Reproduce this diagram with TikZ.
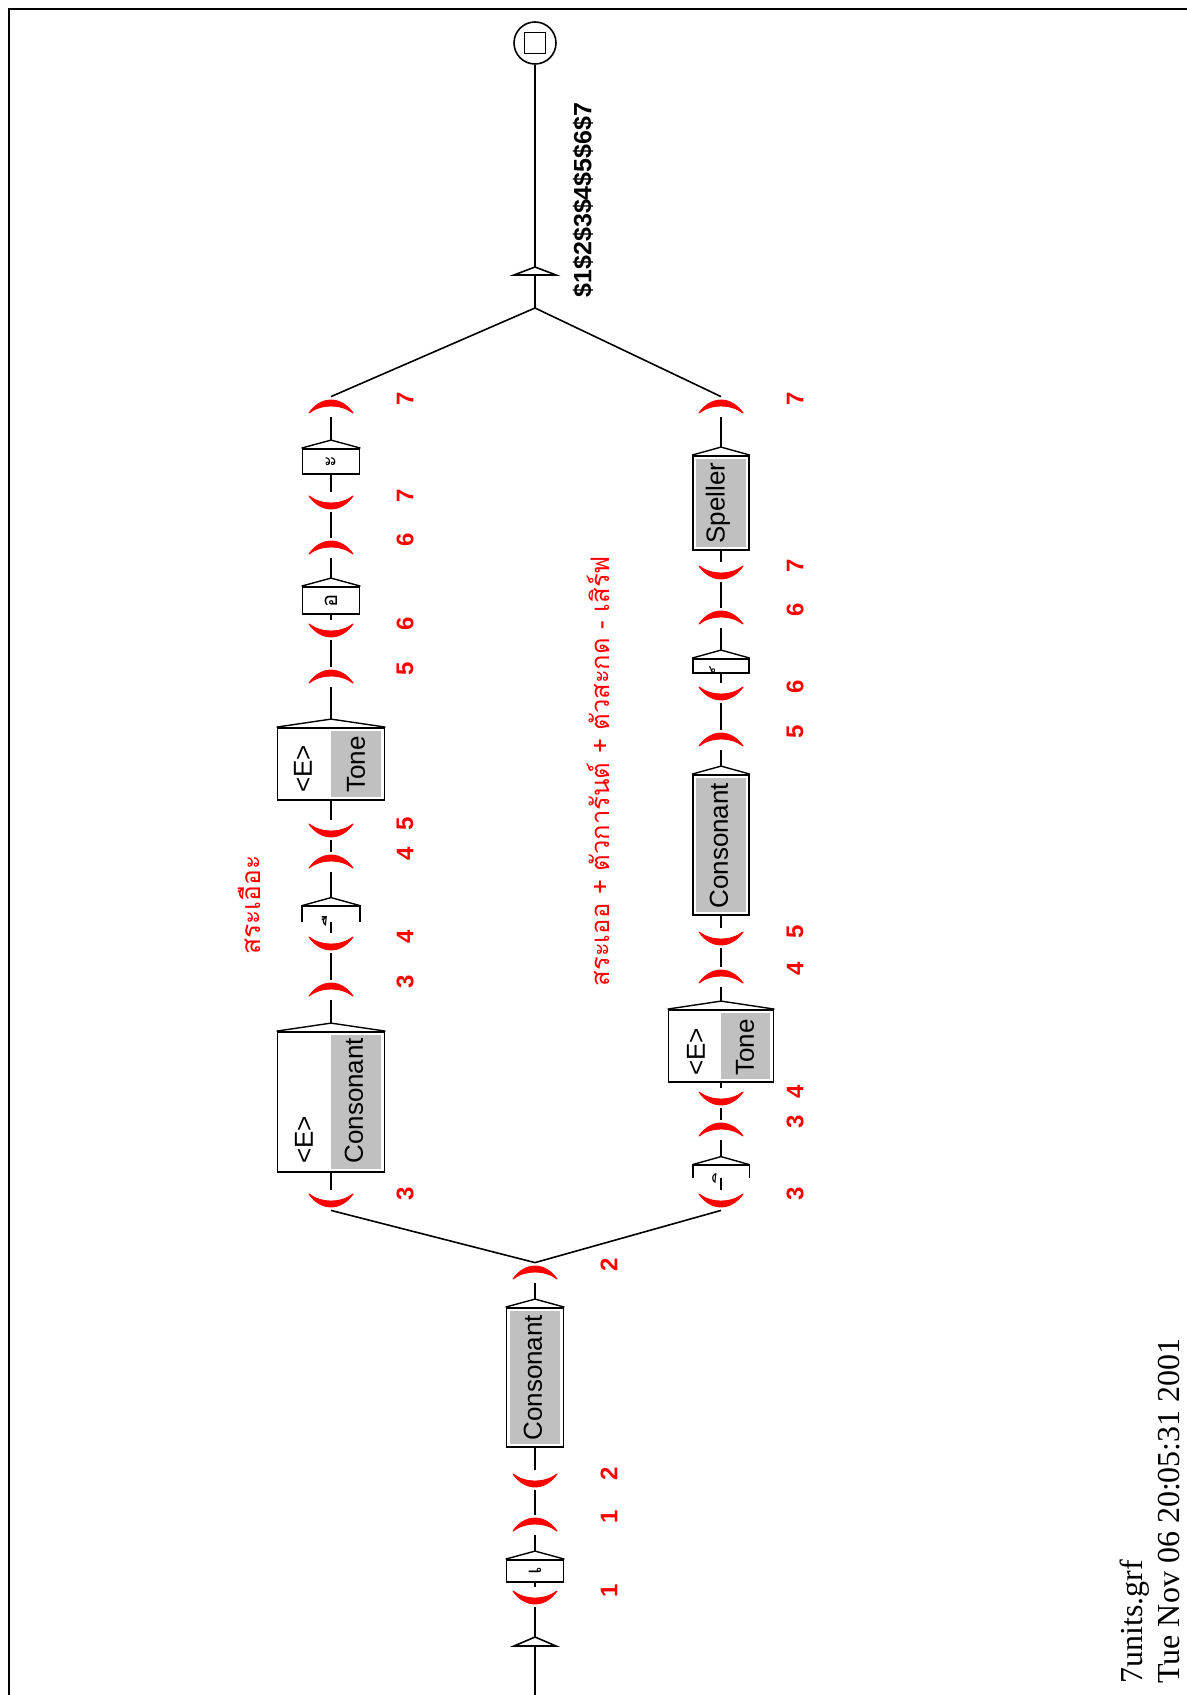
\documentclass[tikz,border=0pt]{standalone}
\usepackage{fontspec}
\setmainfont{Liberation Sans}
\newfontfamily\thaifont[Script=Thai]{Loma}
\newfontfamily\serifft{Liberation Serif}
\definecolor{ugray}{RGB}{192,192,192}
\tikzset{
  conn/.style={line width=0.8pt},
  brk/.style={inner sep=0pt, minimum width=23pt, minimum height=10pt},
  brkline/.style={fill=red, draw=red, line width=0.5pt, line join=round},
  numlab/.style={text=red, font=\fontsize{12}{14}\selectfont\bfseries, rotate=90, inner sep=0pt},
  ubx/.style={draw, line width=0.9pt, inner sep=0pt},
  ubxopen/.style={inner sep=0pt},
  roof/.style={line width=0.7pt},
  btxt/.style={font=\fontsize{13}{15}\selectfont, rotate=90, inner sep=0pt, anchor=west},
  gly/.style={font=\thaifont\fontsize{11}{13}\selectfont, rotate=90, inner sep=0pt},
  thlab/.style={text=red, font=\thaifont\fontsize{12.8}{15}\selectfont, rotate=90, inner sep=0pt},
  gfill/.style={fill=ugray},
  foot/.style={font=\serifft\fontsize{16}{18}\selectfont, rotate=90, anchor=west, inner sep=0pt}
}
% open bracket "(" seen rotated: a smile-shaped crescent
\newcommand\brkopen[4]{%
  \node[brk] (#1) at (#2,#3) {};
  \draw[brkline] ([xshift=-11pt,yshift=3pt]#1.center)
     .. controls ([xshift=-5pt,yshift=-5.6pt]#1.center) and ([xshift=5pt,yshift=-5.6pt]#1.center) .. ([xshift=11pt,yshift=3pt]#1.center)
     .. controls ([xshift=5pt,yshift=-1.7pt]#1.center) and ([xshift=-5pt,yshift=-1.7pt]#1.center) .. cycle;
  \node[numlab] (#1l) at ([xshift=37pt,yshift=3pt]#1.center) {#4};}
% close bracket ")" seen rotated: a frown-shaped crescent
\newcommand\brkclose[4]{%
  \node[brk] (#1) at (#2,#3) {};
  \draw[brkline] ([xshift=-11pt,yshift=-3pt]#1.center)
     .. controls ([xshift=-5pt,yshift=5.6pt]#1.center) and ([xshift=5pt,yshift=5.6pt]#1.center) .. ([xshift=11pt,yshift=-3pt]#1.center)
     .. controls ([xshift=5pt,yshift=1.7pt]#1.center) and ([xshift=-5pt,yshift=1.7pt]#1.center) .. cycle;
  \node[numlab] (#1l) at ([xshift=37pt,yshift=4pt]#1.center) {#4};}
\newcommand\ubox[5]{%
  \node[ubx, minimum width=#4*0.5pt, minimum height=#5*0.5pt] (#1) at (#2,#3) {};
  \coordinate (#1r) at ([yshift=4pt]#1.north);
  \draw[roof] (#1.north west) -- (#1r) -- (#1.north east);}
\newcommand\uboxopen[5]{%
  \node[ubxopen, minimum width=#4*0.5pt, minimum height=#5*0.5pt] (#1) at (#2,#3) {};
  \coordinate (#1r) at ([yshift=4pt]#1.north);
  \draw[line width=0.9pt] (#1.south west) -- (#1.north west) -- (#1.north east) -- (#1.south east);
  \draw[roof] (#1.north west) -- (#1r) -- (#1.north east);}
\begin{document}
\begin{tikzpicture}[x=0.5pt,y=-0.5pt]
\useasboundingbox (0,0) rectangle (1187,1695);
\fill[white] (0,0) rectangle (1187,1695);
\draw[line width=1pt] (9,1695) -- (9,9) -- (1187,9);

% ---------- spine ----------
\coordinate (initA) at (535,1637);
\coordinate (initB) at (535,1646);
\coordinate (initIn) at (535,1695);
\draw[conn] (initIn) -- (initB);
\draw[line width=0.8pt] (514,1646) -- (initA) -- (556,1646) -- cycle;

\brkopen{s1o}{535}{1597}{1}
\ubox{e1}{535}{1571}{57}{22}
\node[gly] (e1t) at (e1) {เ};
\brkclose{s1c}{535}{1525}{1}
\brkopen{s2o}{535}{1480}{2}
\ubox{c0}{535}{1377.5}{57}{139}
\fill[gfill] ([shift={(2pt,-2pt)}]c0.north west) rectangle ([shift={(-2pt,2pt)}]c0.south east);
\node[btxt] (c0t) at (533,1441) {Consonant};
\brkclose{s2c}{535}{1273}{2}

\draw[conn] (initA) -- (s1o);
\draw[conn] (s1o) -- (e1);
\draw[conn] (e1r) -- (s1c);
\draw[conn] (s1c) -- (s2o);
\draw[conn] (s2o) -- (c0);
\draw[conn] (c0r) -- (s2c);

% ---------- row 1 ----------
\brkopen{a3o}{331}{1200}{3}
\ubox{ac}{331}{1102}{107}{140}
\fill[gfill] ([shift={(0pt,-2pt)}]ac.north) rectangle ([shift={(-2pt,2pt)}]ac.south east);
\node[btxt] (ace) at (304,1164) {<E>};
\node[btxt] (act) at (354,1164) {Consonant};
\brkclose{a3c}{331}{990}{3}
\brkopen{a4o}{331}{943}{4}
\uboxopen{a4}{331}{914}{57}{16}
\node[gly] (a4t) at (331,914) {ื};
\brkclose{a4c}{331}{862}{4}
\brkopen{a5o}{331}{830}{5}
\ubox{at}{331}{764}{107}{72}
\fill[gfill] ([shift={(0pt,-2pt)}]at.north) rectangle ([shift={(-2pt,2pt)}]at.south east);
\node[btxt] (ate) at (303,793) {<E>};
\node[btxt] (att) at (356,793) {Tone};
\brkclose{a5c}{331}{677}{5}
\brkopen{a6o}{331}{630}{6}
\ubox{a6}{331}{600.5}{57}{27}
\node[gly] (a6t) at (a6) {อ};
\brkclose{a6c}{331}{548}{6}
\brkopen{a7o}{331}{502}{7}
\ubox{a7}{331}{461.5}{57}{25}
\node[gly] (a7t) at (a7) {ะ};
\brkclose{a7c}{331}{407}{7}

\draw[conn] (a3o) -- (ac);
\draw[conn] (acr) -- (a3c);
\draw[conn] (a3c) -- (a4o);
\draw[conn] (a4o) -- (a4.south);
\draw[conn] (a4r) -- (a4c);
\draw[conn] (a4c) -- (a5o);
\draw[conn] (a5o) -- (at);
\draw[conn] (atr) -- (a5c);
\draw[conn] (a5c) -- (a6o);
\draw[conn] (a6o) -- (a6);
\draw[conn] (a6r) -- (a6c);
\draw[conn] (a6c) -- (a7o);
\draw[conn] (a7o) -- (a7);
\draw[conn] (a7r) -- (a7c);

% ---------- row 2 ----------
\brkopen{b3o}{721}{1200}{3}
\uboxopen{b3}{721}{1171.5}{56}{13}
\node[gly] (b3t) at (721,1171.5) {ิ};
\brkclose{b3c}{721}{1130}{3}
\brkopen{b4o}{721}{1098}{4}
\ubox{bt}{721}{1046}{105}{72}
\fill[gfill] ([shift={(0pt,-2pt)}]bt.north) rectangle ([shift={(-2pt,2pt)}]bt.south east);
\node[btxt] (bte) at (696,1076) {<E>};
\node[btxt] (btt) at (745,1076) {Tone};
\brkclose{b4c}{721}{977}{4}
\brkopen{b5o}{721}{938}{5}
\ubox{bc}{721}{845}{56}{140}
\fill[gfill] ([shift={(2pt,-2pt)}]bc.north west) rectangle ([shift={(-2pt,2pt)}]bc.south east);
\node[btxt] (bct) at (719,909) {Consonant};
\brkclose{b5c}{721}{740}{5}
\brkopen{b6o}{721}{693}{6}
\ubox{b6}{721}{666}{56}{14}
\node[gly] (b6t) at (b6) {์};
\brkclose{b6c}{721}{618}{6}
\brkopen{b7o}{721}{572}{7}
\ubox{bs}{721}{503}{56}{94}
\fill[gfill] ([shift={(2pt,-2pt)}]bs.north west) rectangle ([shift={(-2pt,2pt)}]bs.south east);
\node[btxt] (bst) at (718,544) {Speller};
\brkclose{b7c}{721}{407}{7}

\draw[conn] (b3o) -- (b3.south);
\draw[conn] (b3r) -- (b3c);
\draw[conn] (b3c) -- (b4o);
\draw[conn] (b4o) -- (bt);
\draw[conn] (btr) -- (b4c);
\draw[conn] (b4c) -- (b5o);
\draw[conn] (b5o) -- (bc);
\draw[conn] (bcr) -- (b5c);
\draw[conn] (b5c) -- (b6o);
\draw[conn] (b6o) -- (b6);
\draw[conn] (b6r) -- (b6c);
\draw[conn] (b6c) -- (b7o);
\draw[conn] (b7o) -- (bs);
\draw[conn] (bsr) -- (b7c);

% ---------- branch and merge ----------
\draw[conn] (s2c.north) -- (a3o.south);
\draw[conn] (s2c.north) -- (b3o.south);
\coordinate (merge) at (535,308);
\draw[conn] (a7c.north) -- (merge);
\draw[conn] (b7c.north) -- (merge);

% ---------- output and final ----------
\coordinate (outA) at (535,267);
\coordinate (outB) at (535,275);
\draw[conn] (merge) -- (outB);
\draw[line width=0.8pt] (514,275) -- (outA) -- (556,275) -- cycle;
\node[draw, circle, line width=0.8pt, minimum size=21pt, inner sep=0pt] (fin) at (535,43) {};
\node[draw, line width=0.8pt, minimum size=10.5pt, inner sep=0pt] (finsq) at (fin) {};
\draw[conn] (outA) -- (fin);
\node[rotate=90, inner sep=0pt, font=\fontsize{12.5}{14}\selectfont\bfseries] (outlab) at (583,200) {\$1\$2\$3\$4\$5\$6\$7};

% ---------- comments ----------
\node[thlab, font=\thaifont\fontsize{13.2}{15}\selectfont] (c1) at (249,905) {สระเอือะ};
\node[thlab] (c2) at (598,771) {สระเออ + ตัวการันต์ + ตัวสะกด - เสิร์ฟ};

% ---------- footer ----------
\node[foot] (f1) at (1135,1684) {7units.grf};
\node[foot] (f2) at (1169,1684) {Tue Nov 06 20:05:31 2001};
\end{tikzpicture}
\end{document}
